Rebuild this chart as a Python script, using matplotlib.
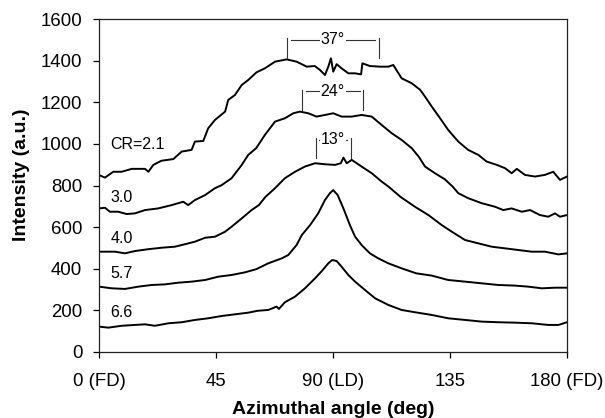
import matplotlib.pyplot as plt
import numpy as np

plt.rcParams['font.family'] = ['Liberation Sans', 'DejaVu Sans']

# CR = 2.1
ang_21 = [0, 2.3, 5.5, 8.7, 12.6, 17.7, 19, 20.9, 24, 28.6, 31.8, 35.6, 36.9, 40.1, 42,
          44.6, 48.5, 49.7, 52.3, 54.9, 57.4, 60.6, 63.8, 67.7, 72.2, 76, 79.9, 83, 85,
          86.9, 88.2, 89.2, 90.1, 91.4, 93.3, 95.9, 98.5, 100.8, 101.3, 104.2, 108.1,
          111.3, 113.2, 116.4, 120.3, 123.5, 125.4, 128, 131.2, 134.3, 138.2, 142, 145.9,
          149.1, 153, 156.2, 158.7, 160.7, 163.8, 167.7, 171.5, 174.7, 177.3, 180]
int_21 = [850, 838, 866, 866, 880, 880, 866, 899, 919, 927, 963, 971, 1011, 1014, 1075,
          1115, 1155, 1211, 1235, 1283, 1307, 1344, 1363, 1395, 1406, 1395, 1371, 1374, 1355,
          1331, 1371, 1411, 1347, 1383, 1363, 1339, 1339, 1334, 1387, 1374, 1371,
          1371, 1379, 1315, 1291, 1260, 1227, 1179, 1123, 1067, 1011, 971, 947,
          915, 899, 883, 859, 880, 851, 843, 851, 866, 827, 843]

# CR = 3.0
ang_30 = [0, 2.3, 4.2, 7.4, 10.6, 13.8, 17.7, 22.8, 28, 32.4, 34.3, 36.9, 40.8, 44.6,
          47.2, 51, 54.9, 57.4, 60.5, 63.8, 67.7, 71.5, 74.7, 77.3, 80.5, 83.7, 86.9,
          90.1, 93.3, 97.2, 101, 104.9, 108.7, 112.6, 116.4, 120.3, 123, 125.4, 129.2,
          133, 136, 138.2, 142, 147.2, 152.3, 155.5, 158.7, 162.6, 165.8, 169.6, 172.8,
          175.4, 177.3, 180]
int_30 = [690, 693, 674, 674, 663, 666, 682, 690, 706, 722, 706, 730, 754, 787,
          802, 835, 899, 947, 980, 1043, 1107, 1123, 1147, 1155, 1147, 1131, 1139,
          1147, 1131, 1131, 1139, 1131, 1091, 1051, 1019, 979, 938, 891, 859,
          830, 795, 763, 739, 715, 698, 682, 690, 674, 682, 658, 650,
          666, 650, 658]

# CR = 4.0
ang_40 = [0, 6.2, 10, 13.8, 19, 24.1, 29.2, 33.1, 36.9, 40.8, 44.6, 48.5, 51, 54.9,
          58.7, 61.5, 64, 67.7, 71.5, 75.4, 79.2, 83.1, 86.9, 90.8, 93, 94, 95.3, 97.2,
          101, 104.9, 108.7, 111.3, 116, 121.5, 126.7, 131.8, 135.7, 140.8, 145.9, 151,
          156.2, 161.3, 166.4, 171.5, 176.7, 180]
int_40 = [482, 482, 474, 485, 494, 501, 506, 518, 530, 549, 554, 578, 602, 642,
          682, 706, 745, 787, 835, 866, 891, 907, 902, 899, 907, 934, 907, 923,
          891, 859, 819, 795, 745, 698, 658, 610, 578, 538, 522, 506,
          498, 490, 482, 482, 469, 474]

# CR = 5.7
ang_57 = [0, 4.9, 10, 15.1, 20.3, 25.4, 30.5, 35.6, 40.8, 45.9, 51, 56.2, 60.5, 65.1,
          70.3, 72.8, 76, 78, 81.2, 84.3, 86.9, 88.8, 90.1, 91.8, 94, 96.5, 98.5, 101,
          104.2, 107.4, 111.3, 116.4, 122, 128, 134.3, 140.8, 147.2, 153.6, 160, 165.1,
          170.3, 175.4, 180]
int_57 = [314, 306, 303, 314, 322, 325, 333, 338, 346, 362, 370, 383, 398, 426,
          450, 466, 514, 562, 610, 666, 730, 763, 778, 754, 690, 610, 554, 514,
          474, 450, 426, 402, 378, 367, 346, 338, 330, 322, 319, 314,
          306, 309, 309]

# CR = 6.6
ang_66 = [0, 3.6, 8.7, 13.8, 17.7, 21.5, 26.7, 31.8, 36.9, 42, 47.2, 52.3, 57.4, 61,
          65.1, 68.3, 69.2, 71.5, 75.4, 79.2, 83.1, 85.7, 88.2, 89.7, 91.4, 93.3, 95.9,
          98.5, 102.3, 106.2, 111.3, 116.4, 122, 128, 134.3, 140.8, 147.2, 153.6, 160,
          166.4, 172.8, 176.7, 180]
int_66 = [122, 117, 126, 130, 133, 126, 138, 143, 154, 162, 173, 181, 189, 198,
          202, 218, 207, 239, 266, 306, 354, 389, 426, 442, 437, 410, 370,
          338, 298, 258, 226, 202, 190, 178, 162, 154, 146, 143, 141,
          138, 130, 130, 143]

curves = [(ang_21, int_21), (ang_30, int_30), (ang_40, int_40),
          (ang_57, int_57), (ang_66, int_66)]
curve_labels = ['CR=2.1', '3.0', '4.0', '5.7', '6.6']
label_y = [995, 741, 546, 378, 189]

# brackets: (left angle, right angle, bar level, tick bottom, text)
brackets = [(72.2, 107.7, 1500, 1411, '37\u00b0'),
            (78.2, 101.7, 1252, 1163, '24\u00b0'),
            (83.3, 96.9, 1020, 931, '13\u00b0')]

xticks = [0, 45, 90, 135, 180]
xtick_labels = ['0 (FD)', '45', '90 (LD)', '135', '180 (FD)']

fig = plt.figure(figsize=(6.05, 4.18), dpi=100)
ax = fig.add_axes([99 / 605, 1 - 352 / 418, 468 / 605, 333 / 418])

for a, v in curves:
    ax.plot(a, v, color='black', lw=1.4)

for txt, y in zip(curve_labels, label_y):
    ax.text(4.4, y, txt, fontsize=11.5, va='center', ha='left')

for x0, x1, yb, yt, txt in brackets:
    ax.plot([x0, x0], [yt, yb + 8], color='#333333', lw=0.8)
    ax.plot([x1, x1], [yt, yb + 8], color='#333333', lw=0.8)
    ax.plot([x0 + 1.5, x1 - 1.5], [yb, yb], color='#333333', lw=0.8)
    ax.text((x0 + x1) / 2, yb, txt, fontsize=11.5, ha='center', va='center',
            bbox=dict(facecolor='white', edgecolor='none', pad=0.5))

ax.set_xlim(0, 180)
ax.set_ylim(0, 1600)
ax.set_xticks(xticks)
ax.set_xticklabels(xtick_labels)
ax.set_yticks(range(0, 1601, 200))
ax.tick_params(axis='both', direction='out', length=4, width=0.9, labelsize=13.4)
ax.tick_params(axis='x', pad=11)
ax.tick_params(axis='y', pad=8)
for s in ax.spines.values():
    s.set_linewidth(0.9)
    s.set_color('#222222')

fig.text(333 / 605, 1 - 410 / 418, 'Azimuthal angle (deg)', fontsize=14,
         fontweight='bold', ha='center', va='center')
fig.text(22 / 605, 1 - 175 / 418, 'Intensity (a.u.)', fontsize=14,
         fontweight='bold', ha='center', va='center', rotation=90)

fig.savefig('out.png', dpi=100)
